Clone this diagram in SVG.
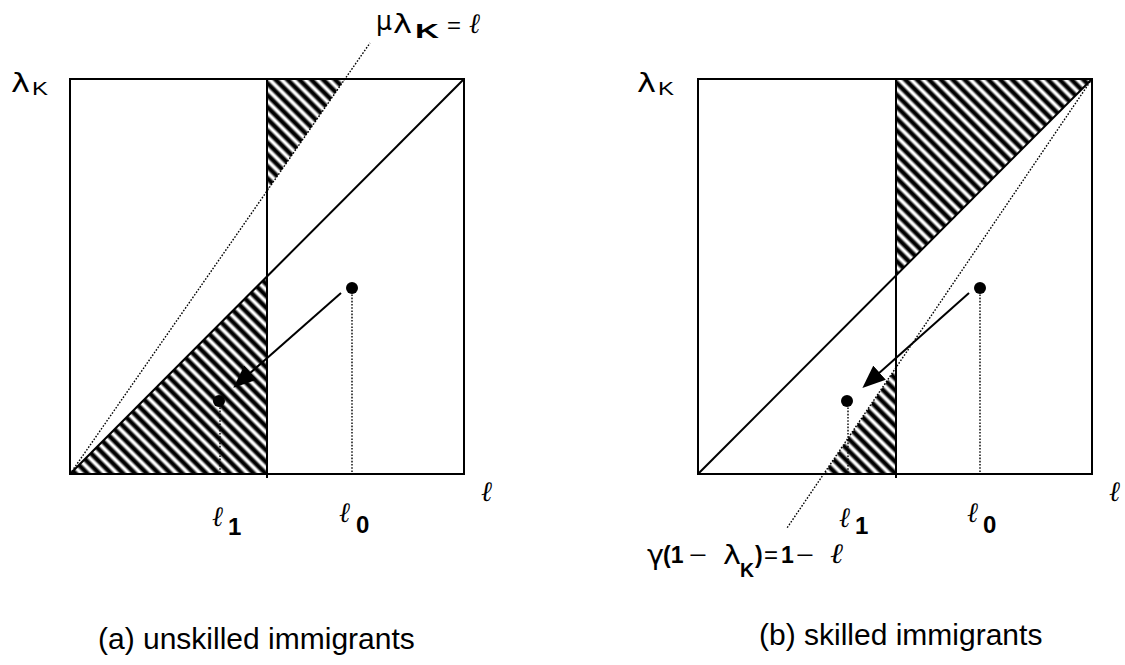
<svg xmlns="http://www.w3.org/2000/svg" width="1125" height="665" viewBox="0 0 1125 665">
<style>
.ln{stroke:#000;stroke-width:2;fill:none}
.dot{stroke:#000;stroke-width:1.4;stroke-dasharray:1.6 1.6;fill:none}
.pt{fill:#000}
.gr{font-family:"DejaVu Sans",sans-serif;font-size:27px;fill:#000}
.sa{font-family:"Liberation Sans",Arial,sans-serif;fill:#000}
.b{font-weight:bold}
.ell{font-family:"Liberation Serif","DejaVu Serif",serif;font-style:italic;font-size:28px;fill:#000}
.cap{font-family:"Liberation Sans",Arial,sans-serif;font-size:30px;fill:#000}
.hat{fill:url(#hatch)}
</style>
<defs>
<linearGradient id="stripe" x1="0" y1="0" x2="1" y2="0">
<stop offset="0" stop-color="#fff"/>
<stop offset="0.1" stop-color="#fff"/>
<stop offset="0.35" stop-color="#000"/>
<stop offset="0.65" stop-color="#000"/>
<stop offset="0.9" stop-color="#fff"/>
<stop offset="1" stop-color="#fff"/>
</linearGradient>
<pattern id="hatch" width="8.4" height="8.4" patternUnits="userSpaceOnUse" patternTransform="rotate(-45)">
<rect width="8.4" height="8.4" fill="url(#stripe)"/>
</pattern>
<marker id="ah" viewBox="0 0 22 18" markerWidth="23" markerHeight="19" markerUnits="userSpaceOnUse" refX="2" refY="9" orient="auto">
<path d="M0,0 L22,9 L0,18 z" fill="#000"/>
</marker>
</defs>

<g id="panel-a">
<polygon class="hat" points="267,79 345,79 267,191"/>
<polygon class="hat" points="70,474 267,474 267,277"/>
<rect class="ln" x="70" y="79" width="394" height="395"/>
<line class="ln" x1="267" y1="79" x2="267" y2="478"/>
<line class="ln" x1="70" y1="474" x2="464" y2="79"/>
<line class="dot" x1="70" y1="474" x2="370" y2="43"/>
<line class="dot" x1="352" y1="288" x2="352" y2="474"/>
<line class="dot" x1="220" y1="401" x2="220" y2="474"/>
<circle class="pt" cx="352" cy="288" r="6"/>
<circle class="pt" cx="219" cy="401" r="6"/>
</g>

<g id="panel-b">
<polygon class="hat" points="896,79 1092,79 896,276"/>
<polygon class="hat" points="824,474 896,474 896,368"/>
<rect class="ln" x="698" y="79" width="394" height="395"/>
<line class="ln" x1="896" y1="79" x2="896" y2="478"/>
<line class="ln" x1="698" y1="474" x2="1092" y2="79"/>
<line class="dot" x1="1092" y1="79" x2="787" y2="528"/>
<line class="dot" x1="980" y1="288" x2="980" y2="474"/>
<line class="dot" x1="848" y1="401" x2="848" y2="474"/>
<circle class="pt" cx="980" cy="288" r="6"/>
<circle class="pt" cx="847" cy="401" r="6"/>
</g>

<g id="connectors">
<line class="ln" x1="341" y1="293" x2="249" y2="374" marker-end="url(#ah)"/>
<line class="ln" x1="969" y1="293" x2="878" y2="374" marker-end="url(#ah)"/>
</g>

<g id="labels-a">
<text class="gr" x="11" y="92" textLength="19" lengthAdjust="spacingAndGlyphs">λ</text>
<text class="sa" x="32" y="95" font-size="19" textLength="16" lengthAdjust="spacingAndGlyphs">K</text>
<text class="gr" x="376" y="30" font-size="31" textLength="16" lengthAdjust="spacingAndGlyphs">μ</text>
<text class="gr" x="393" y="33" textLength="19" lengthAdjust="spacingAndGlyphs">λ</text>
<text class="sa b" x="415" y="38" font-size="21" textLength="24" lengthAdjust="spacingAndGlyphs">K</text>
<text class="sa" x="447" y="33" font-size="22" textLength="14" lengthAdjust="spacingAndGlyphs">=</text>
<text class="ell" x="469" y="33" textLength="11" lengthAdjust="spacingAndGlyphs">ℓ</text>
<text class="ell" x="481" y="501" textLength="11" lengthAdjust="spacingAndGlyphs">ℓ</text>
<text class="ell" x="212" y="526" textLength="11" lengthAdjust="spacingAndGlyphs">ℓ</text>
<text class="sa b" x="228" y="535" font-size="24">1</text>
<text class="ell" x="339" y="522" textLength="11" lengthAdjust="spacingAndGlyphs">ℓ</text>
<text class="sa b" x="356" y="533" font-size="24">0</text>
<text class="cap" x="98" y="649">(a) unskilled immigrants</text>
</g>

<g id="labels-b">
<text class="gr" x="637" y="92" textLength="19" lengthAdjust="spacingAndGlyphs">λ</text>
<text class="sa" x="658" y="95" font-size="19" textLength="16" lengthAdjust="spacingAndGlyphs">K</text>
<text class="ell" x="1109" y="501" textLength="11" lengthAdjust="spacingAndGlyphs">ℓ</text>
<text class="ell" x="839" y="527" textLength="11" lengthAdjust="spacingAndGlyphs">ℓ</text>
<text class="sa b" x="855" y="534" font-size="24">1</text>
<text class="ell" x="967" y="522" textLength="11" lengthAdjust="spacingAndGlyphs">ℓ</text>
<text class="sa b" x="983" y="533" font-size="24">0</text>
<text class="gr" x="647" y="564" textLength="17" lengthAdjust="spacingAndGlyphs">γ</text>
<text class="sa b" x="663" y="563" font-size="23">(1</text>
<text class="sa" x="689" y="563" font-size="23" textLength="18" lengthAdjust="spacingAndGlyphs">−</text>
<text class="gr" x="723" y="564" textLength="18" lengthAdjust="spacingAndGlyphs">λ</text>
<text class="sa b" x="740" y="577" font-size="20" textLength="14" lengthAdjust="spacingAndGlyphs">K</text>
<text class="sa b" x="755" y="563" font-size="23">)</text>
<text class="sa" x="764" y="563" font-size="23" textLength="14" lengthAdjust="spacingAndGlyphs">=</text>
<text class="sa b" x="781" y="563" font-size="23">1</text>
<text class="sa" x="796" y="563" font-size="23" textLength="18" lengthAdjust="spacingAndGlyphs">−</text>
<text class="ell" x="830" y="563" textLength="13" lengthAdjust="spacingAndGlyphs">ℓ</text>
<text class="cap" x="759" y="645">(b) skilled immigrants</text>
</g>
</svg>
